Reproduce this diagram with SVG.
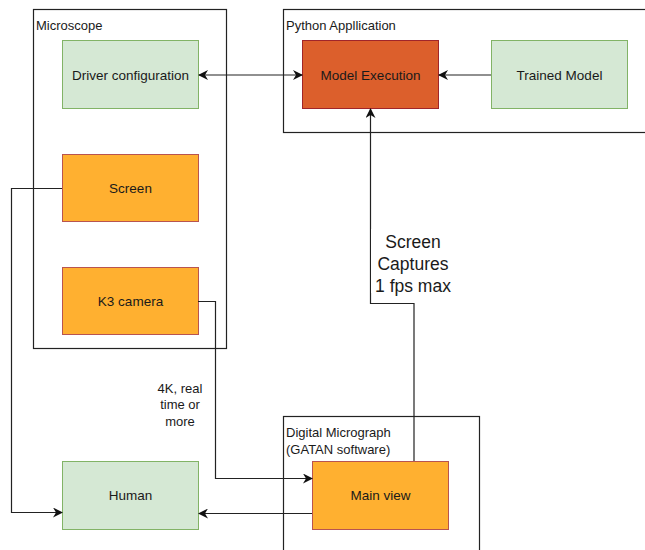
<svg xmlns="http://www.w3.org/2000/svg" width="645" height="550" viewBox="0 0 645 550">
<defs>
<style>
text{font-family:"Liberation Sans",Arial,sans-serif;fill:#1a1a1a}
.cont{fill:none;stroke:#222;stroke-width:1.2}
.green{fill:#d5e8d4;stroke:#82b366;stroke-width:1}
.orange{fill:#ffb030;stroke:#b85450;stroke-width:1}
.red{fill:#dc5f2c;stroke:#a0252a;stroke-width:1}
.lbl{font-size:13.5px;text-anchor:middle;dominant-baseline:central}
.clbl{font-size:13px}
.edge{fill:none;stroke:#222;stroke-width:1.2}
.elbl{font-size:13px;text-anchor:middle}
.big{font-size:17.5px}
</style>
<marker id="arr" viewBox="0 0 10 10" refX="9" refY="5" markerWidth="10" markerHeight="10" markerUnits="userSpaceOnUse" orient="auto-start-reverse">
<path d="M0,0 L10,5 L0,10 L3,5 Z" fill="#111"/>
</marker>
</defs>

<g id="microscope">
<rect class="cont" x="33.5" y="9.5" width="193" height="339"/>
<text class="clbl" x="36" y="30">Microscope</text>
</g>
<g id="python-app">
<rect class="cont" x="283.5" y="9.5" width="370" height="123"/>
<text class="clbl" x="286" y="30">Python Appllication</text>
</g>
<g id="digital-micrograph">
<rect class="cont" x="283.5" y="416.5" width="196" height="150"/>
<text class="clbl" x="286" y="437">Digital Micrograph</text>
<text class="clbl" x="286" y="454">(GATAN software)</text>
</g>

<g id="driver-configuration">
<rect class="green" x="62.5" y="40.5" width="136" height="68"/>
<text class="lbl" x="130.5" y="75">Driver configuration</text>
</g>
<g id="model-execution">
<rect class="red" x="302.5" y="40.5" width="136" height="68"/>
<text class="lbl" x="370.5" y="75">Model Execution</text>
</g>
<g id="trained-model">
<rect class="green" x="491.5" y="40.5" width="136" height="68"/>
<text class="lbl" x="559.5" y="75">Trained Model</text>
</g>
<g id="screen">
<rect class="orange" x="62.5" y="154.5" width="136" height="67"/>
<text class="lbl" x="130.5" y="188">Screen</text>
</g>
<g id="k3-camera">
<rect class="orange" x="62.5" y="267.5" width="136" height="67"/>
<text class="lbl" x="130.5" y="301">K3 camera</text>
</g>
<g id="human">
<rect class="green" x="62.5" y="461.5" width="136" height="68"/>
<text class="lbl" x="130.5" y="495">Human</text>
</g>
<g id="main-view">
<rect class="orange" x="312.5" y="461.5" width="136" height="68"/>
<text class="lbl" x="380.5" y="495">Main view</text>
</g>

<g id="connectors">
<path class="edge" d="M199,75 L302,75" marker-start="url(#arr)" marker-end="url(#arr)"/>
<path class="edge" d="M491,75 L439,75" marker-end="url(#arr)"/>
<path class="edge" d="M414,461 L414,303.5 L370.5,303.5 L370.5,109" marker-end="url(#arr)"/>
<path class="edge" d="M62,188.5 L11.5,188.5 L11.5,512.5 L62,512.5" marker-end="url(#arr)"/>
<path class="edge" d="M198,301.5 L215.5,301.5 L215.5,478.5 L312,478.5" marker-end="url(#arr)"/>
<path class="edge" d="M312,513.5 L199,513.5" marker-end="url(#arr)"/>
</g>
<g id="edge-labels">
<rect x="371" y="229" width="86" height="64" fill="#fff"/>
<text class="elbl big" x="413" y="248">Screen</text>
<text class="elbl big" x="413" y="270">Captures</text>
<text class="elbl big" x="413" y="292">1 fps max</text>
<text class="elbl" x="180" y="393">4K, real</text>
<text class="elbl" x="180" y="409">time or</text>
<text class="elbl" x="180" y="426">more</text>
</g>
</svg>
